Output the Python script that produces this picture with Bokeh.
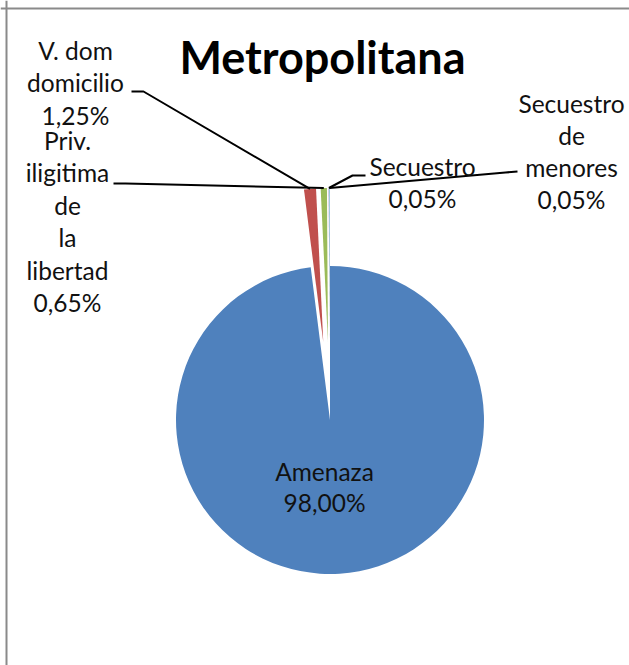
import math
from bokeh.plotting import figure
from bokeh.models import Range1d, Span, ColumnDataSource
from bokeh.embed import file_html
from bokeh.resources import INLINE
from bokeh.core.properties import value

# ---------------- data ----------------
categories = ["Amenaza", "V. dom domicilio", "Priv. iligitima de la libertad",
              "Secuestro", "Secuestro de menores"]
percent = [98.00, 1.25, 0.65, 0.05, 0.05]
percent_labels = ["98,00%", "1,25%", "0,65%", "0,05%", "0,05%"]
label_lines = [
    ["Amenaza"],
    ["V. dom", "domicilio"],
    ["Priv.", "iligitima", "de", "la", "libertad"],
    ["Secuestro"],
    ["Secuestro", "de", "menores"],
]
colors = ["#4F81BD", "#C0504D", "#9BBB59", "#8064A2", "#4BACC6"]
exploded = [False, True, True, True, True]
title_text = "Metropolitana"

# ---------------- layout ----------------
W, H = 629, 665
def Y(ry):  # reference pixel row -> data y
    return H - ry

CX, CY = 329.5, Y(419.5)
R = 154
EXPLODE = 78
FONT = "Lato"
FS = "24.5px"
TXT_SHIFT = -10.5     # compensate baseline placement of the text glyph
TITLE_SHIFT = -17

# label anchors: (centre x, first baseline row) in page pixels
label_pos = [(324, 481), (75, 60), (67, 150), (422, 176), (571, 113)]
line_gap = [31, 32.5, 32.5, 32, 32]
# leader stubs next to the labels (None = no leader)
stubs = [None, [(131, 91), (143, 91)], [(113, 183), (125, 183)],
         [(365, 175), (352, 175)], [(517, 171), (505, 172)]]

p = figure(width=W, height=H, output_backend="svg", toolbar_location=None,
           x_range=Range1d(0, W), y_range=Range1d(0, H),
           x_axis_type=None, y_axis_type=None, min_border=0)
p.grid.visible = False
p.outline_line_color = None
p.background_fill_color = "white"
p.border_fill_color = "white"

total = sum(percent)
cum = 0.0
wx, wy, sa, ea, cols = [], [], [], [], []
ends = []
for i, v in enumerate(percent):
    c0 = cum / total
    c1 = (cum + v) / total
    cum += v
    mid = 2 * math.pi * (c0 + c1) / 2
    dx, dy = math.sin(mid), math.cos(mid)
    off = EXPLODE if exploded[i] else 0
    cx, cy = CX + off * dx, CY + off * dy
    wx.append(cx); wy.append(cy)
    sa.append(math.pi / 2 - 2 * math.pi * c1)
    ea.append(math.pi / 2 - 2 * math.pi * c0)
    cols.append(colors[i])
    ends.append((cx + R * dx, cy + R * dy))

src = ColumnDataSource(dict(x=wx, y=wy, start=sa, end=ea, color=cols, name=categories))
p.wedge(x="x", y="y", radius=R, start_angle="start", end_angle="end",
        fill_color="color", line_color=None, source=src)

# leader lines
lx, ly = [], []
for i, st in enumerate(stubs):
    if st is None:
        continue
    xs = [st[0][0], st[1][0], ends[i][0]]
    ys = [Y(st[0][1]), Y(st[1][1]), ends[i][1]]
    lx.append(xs); ly.append(ys)
p.multi_line(lx, ly, line_color="black", line_width=2)

# labels
tx, ty, tt = [], [], []
for i in range(len(categories)):
    lines = label_lines[i] + [percent_labels[i]]
    x0, y0 = label_pos[i]
    for k, s in enumerate(lines):
        tx.append(x0); ty.append(Y(y0 + k * line_gap[i] + TXT_SHIFT)); tt.append(s)
p.text(tx, ty, text=tt, text_align="center", text_baseline="alphabetic",
       text_font=value(FONT), text_font_size=FS, text_color="#111111")

# title
p.text([322], [Y(73 + TITLE_SHIFT)], text=[title_text], text_align="center",
       text_baseline="alphabetic", text_font=value(FONT), text_font_style="bold",
       text_font_size="45px", text_color="black")

# chart-area border (left and top visible in the crop)
p.add_layout(Span(location=6, dimension="height", line_color="#8a8a8a", line_width=2))
p.add_layout(Span(location=Y(8), dimension="width", line_color="#8a8a8a", line_width=2))

open("out.html", "w").write(file_html(p, INLINE))
